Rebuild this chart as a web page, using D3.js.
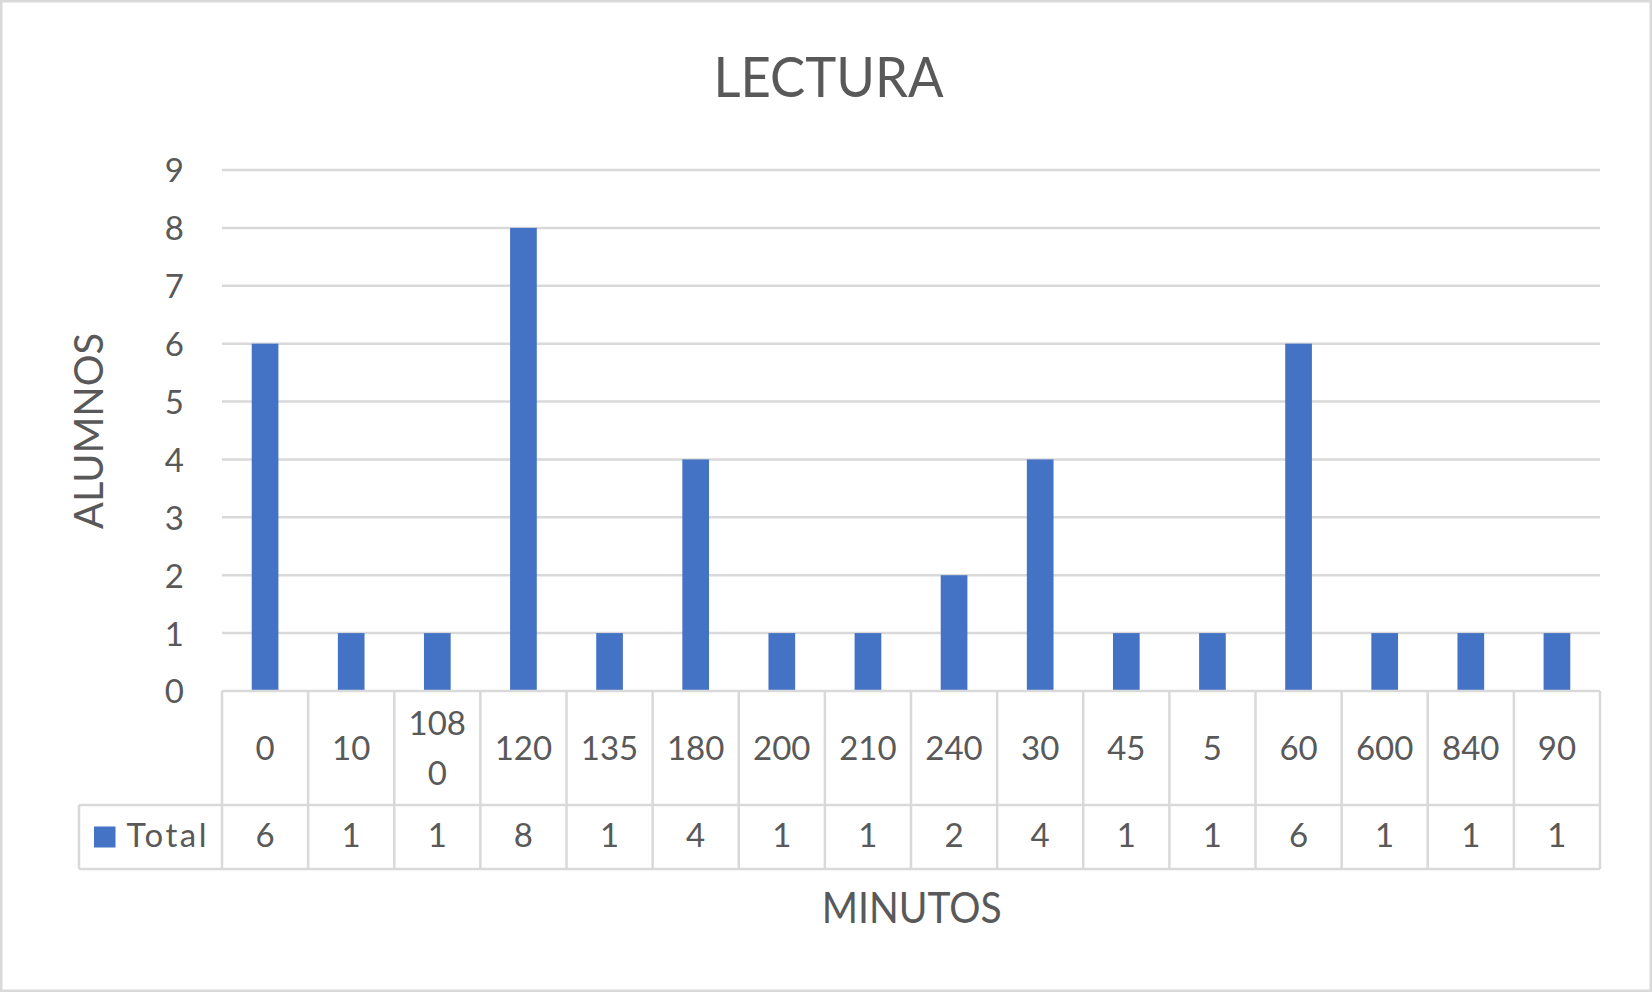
<!DOCTYPE html>
<html>
<head>
<meta charset="utf-8">
<script src="https://cdn.jsdelivr.net/npm/d3@7"></script>
<style>
  html, body { margin: 0; padding: 0; background: #fff; }
  svg { display: block; }
  text { font-family: Lato, "Open Sans", sans-serif; fill: #595959; }
</style>
</head>
<body>
<svg id="chart" width="1652" height="992"></svg>
<script>
// ---- data ----
const chartTitle = "LECTURA";
const xTitle = "MINUTOS";
const yTitle = "ALUMNOS";
const seriesName = "Total";
const categories = ["0", "10", "1080", "120", "135", "180", "200", "210", "240", "30", "45", "5", "60", "600", "840", "90"];
const totals = [6, 1, 1, 8, 1, 4, 1, 1, 2, 4, 1, 1, 6, 1, 1, 1];
const yTicks = [0, 1, 2, 3, 4, 5, 6, 7, 8, 9];

// ---- layout ----
const W = 1652, H = 992;
const plotL = 222, plotR = 1600, plotT = 170, plotB = 691;
const headerB = 805, rowB = 869, tableL = 79;
const gridCol = "#d9d9d9", barCol = "#4472C4";
const fs = 33;

const svg = d3.select("#chart");

svg.append("rect").attr("x", 1.25).attr("y", 1.25).attr("width", W - 2.5).attr("height", H - 2.5)
  .attr("fill", "#fff").attr("stroke", gridCol).attr("stroke-width", 2.5);

const x = d3.scaleBand().domain(categories).range([plotL, plotR]).paddingInner(0).paddingOuter(0);
const y = d3.scaleLinear().domain([0, 9]).range([plotB, plotT]);

// gridlines
svg.append("g").selectAll("line").data(yTicks.filter(d => d > 0)).join("line")
  .attr("x1", plotL).attr("x2", plotR)
  .attr("y1", d => y(d)).attr("y2", d => y(d))
  .attr("stroke", gridCol).attr("stroke-width", 2.5);

// y axis labels
const yAxis = d3.axisLeft(y).tickValues(yTicks).tickSize(0).tickPadding(0).tickFormat(d3.format("d"));
const gy = svg.append("g").attr("transform", `translate(184,0)`).call(yAxis);
gy.select(".domain").remove();
gy.selectAll("text").attr("font-size", fs).attr("font-family", "Lato").attr("fill", "#595959")
  .attr("dy", "0.36em").attr("x", 0);

// bars
const barW = x.bandwidth() * 0.31;
svg.append("g").selectAll("rect").data(categories).join("rect")
  .attr("x", (d) => x(d) + x.bandwidth() / 2 - barW / 2)
  .attr("width", barW)
  .attr("y", (d, i) => y(totals[i]))
  .attr("height", (d, i) => plotB - y(totals[i]))
  .attr("fill", barCol);

// data table lines
const tg = svg.append("g").attr("stroke", gridCol).attr("stroke-width", 2.5);
tg.append("line").attr("x1", plotL).attr("x2", plotR).attr("y1", plotB).attr("y2", plotB);
tg.append("line").attr("x1", tableL).attr("x2", plotR).attr("y1", headerB).attr("y2", headerB);
tg.append("line").attr("x1", tableL).attr("x2", plotR).attr("y1", rowB).attr("y2", rowB);
tg.append("line").attr("x1", tableL).attr("x2", tableL).attr("y1", headerB).attr("y2", rowB);
const bounds = categories.map(d => x(d)).concat([plotR]);
tg.selectAll("line.v").data(bounds).join("line").attr("class", "v")
  .attr("x1", d => d).attr("x2", d => d).attr("y1", plotB).attr("y2", rowB);

// category labels with wrapping
const measure = svg.append("text").attr("font-size", fs).attr("visibility", "hidden");
function textW(s) { measure.text(s); return measure.node().getComputedTextLength(); }
const maxW = x.bandwidth() - 16;
function wrap(s) {
  const lines = []; let cur = "";
  for (const ch of s) {
    if (cur && textW(cur + ch) > maxW) { lines.push(cur); cur = ch; } else cur += ch;
  }
  if (cur) lines.push(cur);
  return lines;
}
const lineH = 50;
const headerMid = 748.5;
const catG = svg.append("g");
categories.forEach(c => {
  const lines = wrap(c);
  const t = catG.append("text").attr("font-size", fs).attr("text-anchor", "middle");
  lines.forEach((ln, k) => {
    t.append("tspan").attr("x", x(c) + x.bandwidth() / 2)
      .attr("y", headerMid + (k - (lines.length - 1) / 2) * lineH + fs * 0.36)
      .text(ln);
  });
});
measure.remove();

// value row
svg.append("g").selectAll("text").data(categories).join("text")
  .attr("x", d => x(d) + x.bandwidth() / 2).attr("y", 847)
  .attr("font-size", fs).attr("text-anchor", "middle")
  .text((d, i) => totals[i]);

// legend key in table
svg.append("rect").attr("x", 94).attr("y", 826.5).attr("width", 21.5).attr("height", 21).attr("fill", barCol);
svg.append("text").attr("x", 126.5).attr("y", 847).attr("font-size", fs)
  .attr("textLength", 80).attr("lengthAdjust", "spacing").text(seriesName);

// titles
svg.append("text").attr("x", 828.5).attr("y", 96.7).attr("text-anchor", "middle")
  .attr("font-size", 57).attr("textLength", 230).attr("lengthAdjust", "spacingAndGlyphs").text(chartTitle);
svg.append("text").attr("x", 911.7).attr("y", 922.5).attr("text-anchor", "middle")
  .attr("font-size", 42).attr("textLength", 180).attr("lengthAdjust", "spacingAndGlyphs").text(xTitle);
svg.append("text").attr("transform", "translate(102.5,431) rotate(-90)").attr("text-anchor", "middle")
  .attr("font-size", 41).attr("textLength", 196).attr("lengthAdjust", "spacingAndGlyphs").text(yTitle);
</script>
</body>
</html>
